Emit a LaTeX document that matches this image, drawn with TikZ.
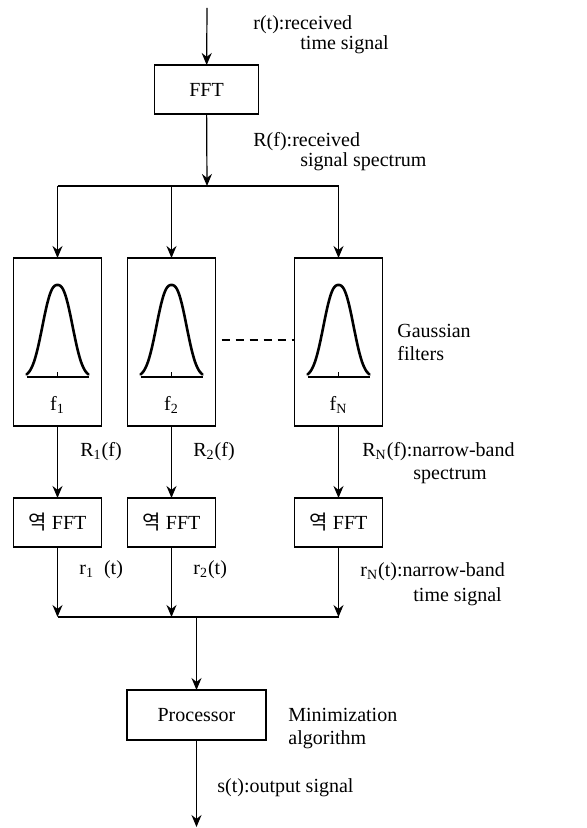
\documentclass[tikz,border=0pt]{standalone}
\usepackage{fontspec}
\setmainfont{Liberation Serif}
\newfontfamily\kofont{Noto Sans CJK KR}
\usetikzlibrary{arrows.meta,positioning}

\begin{document}
\begin{tikzpicture}[
  >={Stealth[length=6pt,width=5pt]},
  font=\fontsize{10}{12}\selectfont,
  node distance=36pt and 13pt,
  box/.style={draw,line width=0.7pt,minimum width=44pt,minimum height=24.5pt,
    inner sep=0pt,outer sep=0pt},
  filterbox/.style={draw,line width=0.7pt,minimum width=44pt,minimum height=84pt,
    inner sep=0pt,outer sep=0pt},
  line/.style={->,line width=0.6pt},
  lbl/.style={inner sep=0pt,align=left,anchor=west},
  bell/.style={line width=1.3pt,line join=round,line cap=round}
]
  \useasboundingbox (0,0) rectangle (293.5pt,-414pt);

  \node[box,minimum width=52pt] (fft) at (103.25pt,-44.75pt) {FFT};
  \node[filterbox] (filt1) at (28.75pt,-171pt) {};
  \node[filterbox,right=of filt1] (filt2) {};
  \node[filterbox,right=39.5pt of filt2] (filtN) {};
  \node[box,below=of filt1] (ifft1) {{\kofont 역} FFT};
  \node[box,below=of filt2] (ifft2) {{\kofont 역} FFT};
  \node[box,below=of filtN] (ifftN) {{\kofont 역} FFT};
  \node[box,minimum width=69.5pt,minimum height=25pt] (proc) at (98.25pt,-357.5pt) {Processor};

  \coordinate (in) at (103.5pt,-4pt);
  \coordinate (split) at (103.5pt,-93pt);
  \coordinate (join) at (98.25pt,-308.5pt);
  \coordinate (out) at (98.25pt,-413.5pt);

  % filter curves
  \foreach \i in {1,2,N} {
    \begin{scope}[shift={(filt\i.center)}]
      \draw[line width=0.9pt] (-15.5pt,-17.5pt) -- (15.5pt,-17.5pt);
      \draw[line width=0.6pt] (0,-17.5pt) -- (0,-15pt);
      \draw[bell] plot[domain=-15.5:15.5,samples=61,smooth]
        (\x pt,{-17.5pt+46pt*exp(-pow(abs(\x)/9.3,2.5))});
    \end{scope}
    \node (flab\i) at ([yshift=-31.5pt]filt\i.center) {f\textsubscript{\i}};
  }
  \draw[dashed,dash pattern=on 4pt off 3pt,line width=0.6pt]
    ([xshift=3pt,yshift=1pt]filt2.east) -- ([yshift=1pt]filtN.west);

  % connectors
  \draw[line] (in) -- (fft);
  \draw[line] (fft) -- (split);
  \draw[line width=0.6pt] (filt1.north |- split) -- (filtN.north |- split);
  \foreach \i in {1,2,N} {
    \draw[line] (filt\i.north |- split) -- (filt\i);
    \draw[line] (filt\i) -- (ifft\i);
    \draw[line] (ifft\i) -- (ifft\i.south |- join);
  }
  \draw[line width=0.6pt] (ifft1.south |- join) -- (ifftN.south |- join);
  \draw[line] (join) -- (proc);
  \draw[line] (proc) -- (out);

  % labels
  \node[lbl] (rtlbl) at (126.5pt,-17.5pt) {r(t):received\\[-2pt]\hspace*{23.5pt}time signal};
  \node[lbl] (Rflbl) at (126.5pt,-76pt) {R(f):received\\[-2pt]\hspace*{23.5pt}signal spectrum};
  \node[lbl] (R1lbl) at (40pt,-226pt) {R\textsubscript{1}(f)};
  \node[lbl] (R2lbl) at (96.5pt,-226pt) {R\textsubscript{2}(f)};
  \node[lbl] (RNlbl) at (181pt,-231.5pt) {R\textsubscript{N}(f):narrow-band\\[-0.5pt]\hspace*{25.5pt}spectrum};
  \node[lbl] (gausslbl) at (198.5pt,-171pt) {Gaussian\\[-0.5pt]filters};
  \node[lbl] (r1lbl) at (39.5pt,-285pt) {r\textsubscript{1}\ \ (t)};
  \node[lbl] (r2lbl) at (96.5pt,-285pt) {r\textsubscript{2}(t)};
  \node[lbl] (rNlbl) at (180pt,-292pt) {r\textsubscript{N}(t):narrow-band\\[0.5pt]\hspace*{26.5pt}time signal};
  \node[lbl] (minlbl) at (144pt,-364.5pt) {Minimization\\[-0.5pt]algorithm};
  \node[lbl] (stlbl) at (108.5pt,-394pt) {s(t):output signal};
\end{tikzpicture}
\end{document}
